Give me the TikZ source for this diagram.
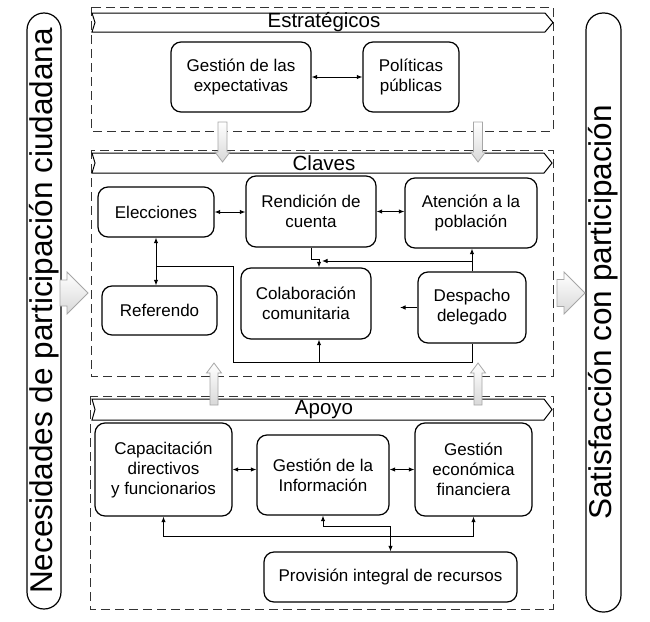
\documentclass[tikz,border=0pt]{standalone}
\usepackage{fontspec}
\setmainfont{Liberation Sans}
\usetikzlibrary{arrows.meta}

\tikzset{
    pics/barrow/.style n args={4}{code={
        \shade[draw=gray!70, line width=0.8pt, top color=white, bottom color=gray!30]
            (0,-#2) -- (#1-#4,-#2) -- (#1-#4,-#3) -- (#1,0) -- (#1-#4,#3) -- (#1-#4,#2) -- (0,#2) -- cycle;
    }}
}

\begin{document}
\begin{tikzpicture}[x=1pt, y=-1pt,
    >={Latex[length=5.5pt,width=4.5pt]},
    box/.style={draw, line width=1.2pt, rounded corners=10pt, fill=white, align=center,
        inner sep=0pt, font=\fontsize{17}{20}\selectfont},
    grp/.style={draw=black!80, line width=0.9pt, dash pattern=on 9pt off 5pt},
    bnr/.style={draw, line width=1pt, fill=white},
    ttl/.style={inner sep=0pt, font=\fontsize{20.5}{24}\selectfont},
    side/.style={draw, line width=1.2pt, rounded corners=17pt, inner sep=0pt,
        font=\fontsize{31.5}{36}\selectfont},
    lnk/.style={line width=1pt}
  ]
    \useasboundingbox (0,0) rectangle (650,621);

    \draw[grp] (91,7) rectangle (553,131);
    \draw[grp] (91,150) rectangle (553,376);
    \draw[grp] (90,396) rectangle (553,609);

    \draw[bnr] (92,13) -- (545,13) -- (553,22.5) -- (545,32) -- (92,32) -- (95,22.5) -- cycle;
    \draw[bnr] (92,153) -- (544,153) -- (552,163) -- (544,173) -- (92,173) -- (95,163) -- cycle;
    \draw[bnr] (92,399) -- (544,399) -- (552,409.5) -- (544,420) -- (92,420) -- (95,409.5) -- cycle;
    \node[ttl] (te) at (324,22.5) {Estratégicos};
    \node[ttl] (tc) at (324,163) {Claves};
    \node[ttl] (ta) at (324,409.5) {Apoyo};

    \node[side, rotate=90, minimum width=596, minimum height=34] (nec) at (44,311)
        {Necesidades de participación ciudadana};
    \node[side, rotate=90, minimum width=599, minimum height=35] (sat) at (603.5,312.5)
        {Satisfacción con participación};
    \pic at (60,293) {barrow={28}{13}{21}{21}};
    \pic at (557,293) {barrow={28}{13.5}{21}{21}};

    \node[box, minimum width=140, minimum height=70] (gexp) at (241,77) {Gestión de las\\expectativas};
    \node[box, minimum width=96, minimum height=70] (pol) at (411,77) {Políticas\\públicas};
    \draw[lnk, <->] (gexp) -- (pol);

    \node[box, minimum width=116, minimum height=50] (elec) at (156,212) {Elecciones};
    \node[box, minimum width=130, minimum height=71] (rend) at (311,211.5) {Rendición de\\cuenta};
    \node[box, minimum width=132, minimum height=70] (aten) at (471,213) {Atención a la\\población};
    \node[box, minimum width=115, minimum height=49] (refe) at (159.5,310.5) {Referendo};
    \node[box, minimum width=130, minimum height=71] (cola) at (306,303.5) {Colaboración\\comunitaria};
    \node[box, minimum width=108, minimum height=71] (desp) at (472,307.5) {Despacho\\delegado};
    \coordinate (jc) at (319,259);
    \coordinate (jd) at (322,261);
    \coordinate (lp) at (233,362);
    \coordinate (lj) at (157,266);
    \coordinate (dl) at (400,307.5);
    \draw[lnk, <->] (elec.east) -- (elec.east -| rend.west);
    \draw[lnk, <->] (rend.east) -- (rend.east -| aten.west);
    \draw[lnk, <->] (elec.south) -- (elec.south |- refe.north);
    \draw[lnk, ->] (rend.south) |- (jc) -- (jc |- cola.north);
    \draw[lnk, ->] (desp.north) -- (desp.north |- aten.south);
    \draw[lnk, ->] (desp.north |- jd) -- (jd);
    \draw[lnk, ->] (desp.west) -- (dl);
    \draw[lnk] (desp.south) |- (lp) |- (lj);
    \draw[lnk, ->] (jc |- lp) -- (jc |- cola.south);

    \node[box, minimum width=137, minimum height=93] (capa) at (163.5,469.5) {Capacitación\\directivos\\y funcionarios};
    \node[box, minimum width=132, minimum height=80] (ginf) at (323,475) {Gestión de la\\Información};
    \node[box, minimum width=117, minimum height=93] (geco) at (473.5,469.5) {Gestión\\económica\\financiera};
    \node[box, minimum width=253, minimum height=50] (prov) at (390.5,577) {Provisión integral de recursos};
    \coordinate (bus) at (323,536);
    \draw[lnk, <->] (capa.east) -- (capa.east -| ginf.west);
    \draw[lnk, <->] (geco.west) -- (geco.west -| ginf.east);
    \draw[lnk, <->] (capa.south) -- (capa.south |- bus) -- (geco.south |- bus) -- (geco.south);
    \draw[lnk, <->] (ginf.south) -- ++(0,11) -| (prov.north);

    \pic[rotate=-90] at (222.5,122) {barrow={40}{4.5}{7.5}{10}};
    \pic[rotate=-90] at (478,122) {barrow={40}{4.5}{7.5}{10}};
    \pic[rotate=90] at (214,405) {barrow={42}{4}{7.5}{10}};
    \pic[rotate=90] at (478,405) {barrow={42}{4}{7.5}{10}};
\end{tikzpicture}
\end{document}
